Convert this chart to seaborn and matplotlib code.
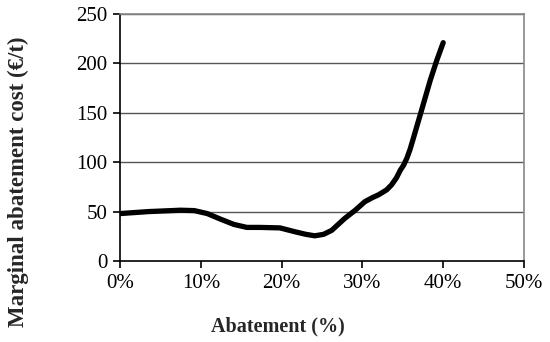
import matplotlib
matplotlib.use("Agg")
import matplotlib.pyplot as plt
import seaborn as sns
import pandas as pd
from matplotlib.ticker import FuncFormatter

abatement_pct = [0, 3.5, 7.5, 9.2, 10.8, 12.4, 14.1, 15.7, 17.3, 19.8, 21.7, 23.0, 24.1,
                 25.2, 26.2, 27.8, 29.1, 30.3, 31.2, 32.0, 33.0, 33.6, 34.2, 34.7, 35.1,
                 35.5, 35.9, 36.3, 37.3, 38.4, 39.2, 40.0]
marginal_cost = [48, 50, 51.4, 51, 48, 42.5, 37, 34, 34, 33.5, 29.5, 27, 25.5,
                 27, 31, 43, 51.3, 60, 64, 67, 72, 77, 84, 92, 97,
                 104, 113, 124, 152, 183, 203, 221]
x_ticks = [0, 10, 20, 30, 40, 50]
y_ticks = [0, 50, 100, 150, 200, 250]

sns.set_theme(style="white")
plt.rcParams['font.family'] = ['Liberation Serif', 'DejaVu Serif']

df = pd.DataFrame({"Abatement": abatement_pct, "Cost": marginal_cost})

fig = plt.figure(figsize=(5.5, 3.42), dpi=100)
ax = fig.add_axes([120/550, 1 - 261/342, (524 - 120)/550, (261 - 14)/342])

for y in y_ticks[1:]:
    ax.axhline(y, color="#555555", lw=1.0, zorder=1)

sns.lineplot(data=df, x="Abatement", y="Cost", ax=ax, color="black", lw=3.8,
             estimator=None, sort=False, zorder=3,
             solid_capstyle="round", solid_joinstyle="round")

ax.set_xlim(0, 50)
ax.set_ylim(0, 250)
ax.set_xticks(x_ticks)
ax.set_yticks(y_ticks)
ax.xaxis.set_major_formatter(FuncFormatter(lambda v, p: f"{int(v)}%"))

for s in ["left", "bottom"]:
    ax.spines[s].set_color("black")
    ax.spines[s].set_linewidth(1.2)
for s in ["top", "right"]:
    ax.spines[s].set_color("#888888")
    ax.spines[s].set_linewidth(1.2)

ax.tick_params(axis="both", which="major", direction="out", length=5, width=1.2,
               color="black", labelsize=15, labelcolor="black",
               bottom=True, left=True, pad=4)

ax.set_xlabel("Abatement (%)", fontsize=14.5, fontweight="bold")
ax.xaxis.set_label_coords(0.391, -0.225)
ax.set_ylabel("Marginal abatement cost (€/t)", fontsize=16.5, fontweight="bold")
ax.yaxis.set_label_coords(-0.225, 0.32)
ax.grid(False)

fig.savefig("out.png", dpi=100)
